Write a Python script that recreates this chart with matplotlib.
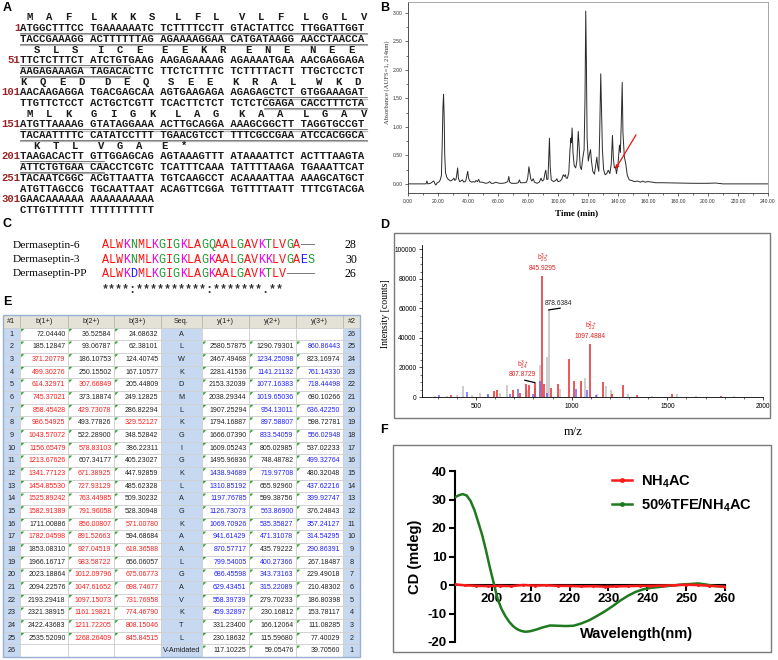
import matplotlib
matplotlib.use('Agg')
import matplotlib.pyplot as plt
from matplotlib.patches import Rectangle, Polygon
from matplotlib.ticker import MultipleLocator, FormatStrFormatter
from matplotlib.lines import Line2D

plt.rcParams['font.family'] = ['Liberation Sans', 'DejaVu Sans']
plt.rcParams['mathtext.fontset'] = 'custom'
plt.rcParams['mathtext.rm'] = 'Liberation Sans'
plt.rcParams['mathtext.it'] = 'Liberation Sans:italic'
plt.rcParams['mathtext.bf'] = 'Liberation Sans:bold'
plt.rcParams['mathtext.default'] = 'regular'
plt.rcParams['axes.unicode_minus'] = False

# ======================= DATA =======================
# --- A: cDNA and translation ---
dna_starts = [1, 51, 101, 151, 201, 251, 301]
dna_top = [
    "ATGGCTTTCC TGAAAAAATC TCTTTTCCTT GTACTATTCC TTGGATTGGT",
    "TTCTCTTTCT ATCTGTGAAG AAGAGAAAAG AGAAAATGAA AACGAGGAGA",
    "AACAAGAGGA TGACGAGCAA AGTGAAGAGA AGAGAGCTCT GTGGAAAGAT",
    "ATGTTAAAAG GTATAGGAAA ACTTGCAGGA AAAGCGGCTT TAGGTGCCGT",
    "TAAGACACTT GTTGGAGCAG AGTAAAGTTT ATAAAATTCT ACTTTAAGTA",
    "TACAATCGGC ACGTTAATTA TGTCAAGCCT ACAAAATTAA AAAGCATGCT",
    "GAACAAAAAA AAAAAAAAAA",
]
dna_bottom = [
    "TACCGAAAGG ACTTTTTTAG AGAAAAGGAA CATGATAAGG AACCTAACCA",
    "AAGAGAAAGA TAGACACTTC TTCTCTTTTC TCTTTTACTT TTGCTCCTCT",
    "TTGTTCTCCT ACTGCTCGTT TCACTTCTCT TCTCTCGAGA CACCTTTCTA",
    "TACAATTTTC CATATCCTTT TGAACGTCCT TTTCGCCGAA ATCCACGGCA",
    "ATTCTGTGAA CAACCTCGTC TCATTTCAAA TATTTTAAGA TGAAATTCAT",
    "ATGTTAGCCG TGCAATTAAT ACAGTTCGGA TGTTTTAATT TTTCGTACGA",
    "CTTGTTTTTT TTTTTTTTTT",
]
aa_lines = ["MAFLKKSLFLVLFLGLV", "SLSICEEEKRENENEE", "KQEDDEQSEEKRALWKD",
            "MLKGIGKLAGKAALGAV", "KTLVGAE*"]
underline_ranges = [(1, 66), (136, 212)]

# --- B: HPLC chromatogram (time min, absorbance) ---
hplc_time = [0, 12.0, 12.6, 13.2, 15.0, 16.5, 17.2, 18.0, 18.6, 19.5, 20.5, 21.5, 22.3, 22.8, 23.3, 23.7,
             24.1, 24.5, 25.0, 25.8, 26.8, 28.5, 30.0, 30.6, 31.2, 32.0, 32.6, 33.1, 33.6, 34.4, 35.3,
             36.2, 37.2, 38.5, 39.3, 39.8, 40.4, 41.2, 42.5, 43.5, 44.5, 45.3, 46.3, 47.1, 47.8, 49.5,
             50.5, 52.0, 53.5, 54.5, 55.5, 57.0, 58.5, 59.5, 61.0, 63.0, 65.0, 66.5, 67.2, 67.8, 69.0,
             72.0, 73.5, 74.3, 75.0, 77.5, 79.0, 79.8, 80.6, 81.2, 81.9, 82.6, 83.5, 84.3, 86.0, 87.5,
             88.7, 89.5, 90.5, 91.4, 91.9, 92.5, 93.3, 93.9, 94.3, 94.8, 95.5, 97.0, 98.5, 99.2, 100.0,
             101.5, 102.5, 103.5, 104.3, 104.9, 105.5, 106.3, 107.2, 108.0, 108.6, 108.9, 109.4, 110.0,
             110.8, 111.8, 112.6, 113.5, 114.1, 114.8, 115.6, 116.5, 117.4, 118.0, 118.5, 118.9, 119.4,
             120.2, 121.2, 121.7, 122.3, 123.2, 124.3, 125.3, 125.9, 126.5, 127.2, 127.8, 128.5, 129.0,
             129.6, 130.4, 131.4, 132.5, 133.5, 134.6, 135.5, 136.3, 136.9, 137.6, 138.3, 139.0, 140.0,
             141.0, 141.6, 142.3, 142.8, 143.3, 144.2, 145.2, 146.2, 147.5, 149.0, 151.0, 153.0, 155.0,
             156.5, 158.0, 160.0, 163.0, 165.0, 170.0, 180.0, 190.0, 200.0, 205.0, 210.0, 240.0]
hplc_abs = [0.0, 0.0, 0.05, 0.0, 0.01, 0.04, 0.05, 0.0, -0.02, 0.02, 0.03, 0.07, 0.15, 0.7, 1.35, 1.57,
            1.2, 0.5, 0.2, 0.12, 0.08, 0.05, 0.08, 0.10, 0.06, 0.08, 0.18, 0.28, 0.10, 0.04, 0.05,
            0.07, 0.03, 0.05, 0.15, 0.22, 0.10, 0.05, 0.03, 0.04, 0.03, 0.06, 0.04, 0.08, 0.03, 0.03,
            0.02, 0.01, 0.02, 0.04, 0.01, 0.01, 0.03, 0.02, 0.01, 0.01, 0.02, 0.04, 0.13, 0.03, 0.01,
            0.01, 0.02, 0.07, 0.02, 0.02, 0.03, 0.10, 0.30, 0.20, 0.08, 0.05, 0.09, 0.03, 0.01, 0.03,
            0.10, 0.05, 0.07, 0.20, 0.24, 0.08, 0.08, 0.50, 0.80, 0.30, 0.07, 0.04, 0.06, 0.09, 0.04,
            0.05, 0.08, 0.16, 0.13, 0.16, 0.10, 0.10, 0.20, 0.60, 0.80, 0.72, 0.98, 0.55,
            0.32, 0.28, 0.40, 0.92, 0.65, 0.30, 0.25, 0.45, 0.60, 1.5, 3.03, 2.2, 0.8,
            0.40, 0.55, 0.60, 0.40, 0.22, 0.17, 0.35, 0.47, 0.30, 0.22, 0.9, 1.93, 1.3,
            0.6, 0.25, 0.16, 0.18, 0.24, 0.18, 0.35, 0.85, 0.45, 0.28, 0.30, 0.18, 0.35,
            0.68, 0.55, 1.2, 1.78, 0.9, 0.48, 0.35, 0.15, 0.07, 0.06, 0.04, 0.05, 0.03,
            0.05, 0.03, 0.04, 0.03, 0.02, 0.02, 0.015, 0.01, 0.01, 0.015, 0.0, 0.0]
arrow_tail = (152.0, 0.86)
arrow_head = (138.3, 0.26)

# --- C: alignment ---
align_names = ["Dermaseptin-6", "Dermaseptin-3", "Dermaseptin-PP"]
align_seqs = ["ALWKNMLKGIGKLAGQAALGAVKTLVGA--",
              "ALWKNMLKGIGKLAGKAALGAVKKLVGAES",
              "ALWKDMLKGIGKLAGKAALGAVKTLV----"]
align_lengths = [28, 30, 26]
align_consensus = "****:**********:*******.**"

# --- D: MS/MS spectrum ---
ms_red_mz = [367, 593, 610, 695, 727, 762, 774, 807.87, 845.93, 856.0, 891.5, 927.0, 983.6,
             1012.1, 1047.6, 1097.49, 1161.2, 1211.7, 1268.3, 1341.8, 1525.9, 1782.0]
ms_red_int = [1500, 4000, 4500, 5000, 2800, 9000, 8000, 9700, 82000, 8500, 6000, 8500, 26000,
              10800, 10700, 36200, 10200, 2200, 7800, 1500, 2300, 900]
ms_blue_mz = [308, 451, 561, 678, 720, 799.5, 833.5, 870.6, 1019.7, 1077.2, 1126.7]
ms_blue_int = [1500, 3500, 2300, 1800, 5500, 2000, 10800, 3000, 5500, 5000, 1500]
ms_gray_mz = [285, 350, 400, 433, 480, 521, 560, 625, 664, 765, 809, 835, 871, 878.64, 940,
              1069, 1132, 1179, 1205, 1296, 1420, 1551, 1650, 1850]
ms_gray_int = [600, 800, 1500, 7500, 1200, 2500, 1500, 3000, 7800, 5000, 6000, 22000, 27000,
               59000, 5500, 13000, 2000, 7500, 4500, 2000, 800, 2000, 1000, 500]
ms_ion_labels = [  # (m/z, intensity, ion, charge, index, text)
    (845.93, 82000, "b", "3+", "25", "845.9295"),
    (1097.49, 36200, "b", "2+", "22", "1097.4884"),
    (807.87, 9700, "b", "3+", "24", "807.8729"),
]
ms_plain_label = (878.64, 59000, "878.6384")

# --- E: fragment ion table ---
tbl_headers = ["#1", "b(1+)", "b(2+)", "b(3+)", "Seq.", "y(1+)", "y(2+)", "y(3+)", "#2"]
tbl_b1 = [72.04440, 185.12847, 371.20779, 499.30276, 614.32971, 745.37021, 858.45428, 986.54925,
          1043.57072, 1156.65479, 1213.67626, 1341.77123, 1454.85530, 1525.89242, 1582.91389,
          1711.00886, 1782.04598, 1853.08310, 1966.16717, 2023.18864, 2094.22576, 2193.29418,
          2321.38915, 2422.43683, 2535.52090, None]
tbl_b2 = [36.52584, 93.06787, 186.10753, 250.15502, 307.66849, 373.18874, 429.73078, 493.77826,
          522.28900, 578.83103, 607.34177, 671.38925, 727.93129, 763.44985, 791.96058, 856.00807,
          891.52663, 927.04519, 983.58722, 1012.09796, 1047.61652, 1097.15073, 1161.19821,
          1211.72205, 1268.26409, None]
tbl_b3 = [24.68632, 62.38101, 124.40745, 167.10577, 205.44809, 249.12825, 286.82294, 329.52127,
          348.52842, 386.22311, 405.23027, 447.92859, 485.62328, 509.30232, 528.30948, 571.00780,
          594.68684, 618.36588, 656.06057, 675.06773, 698.74677, 731.76958, 774.46790, 808.15046,
          845.84515, None]
tbl_seq = ["A", "L", "W", "K", "D", "M", "L", "K", "G", "I", "G", "K", "L", "A", "G", "K", "A",
           "A", "L", "G", "A", "V", "K", "T", "L", "V-Amidated"]
tbl_y1 = [None, 2580.57875, 2467.49468, 2281.41536, 2153.32039, 2038.29344, 1907.25294, 1794.16887,
          1666.07390, 1609.05243, 1495.96836, 1438.94689, 1310.85192, 1197.76785, 1126.73073,
          1069.70926, 941.61429, 870.57717, 799.54005, 686.45598, 629.43451, 558.39739, 459.32897,
          331.23400, 230.18632, 117.10225]
tbl_y2 = [None, 1290.79301, 1234.25098, 1141.21132, 1077.16383, 1019.65036, 954.13011, 897.58807,
          833.54059, 805.02985, 748.48782, 719.97708, 655.92960, 599.38756, 563.86900, 535.35827,
          471.31078, 435.79222, 400.27366, 343.73163, 315.22089, 279.70233, 230.16812, 166.12064,
          115.59680, 59.05476]
tbl_y3 = [None, 860.86443, 823.16974, 761.14330, 718.44498, 680.10266, 636.42250, 598.72781,
          556.02948, 537.02233, 499.32764, 480.32048, 437.62216, 399.92747, 376.24843, 357.24127,
          314.54295, 290.86391, 267.18487, 229.49018, 210.48302, 186.80398, 153.78117, 111.08285,
          77.40029, 39.70560]
# matched-ion colour codes per row (k=black, r=red, b=blue, -=empty)
tbl_b1_col = "kkrrrrrrrrrrrrrkrkkkkkkkk-"
tbl_b2_col = "kkkkrkrkkrkrrrrrrrrrrrrrr-"
tbl_b3_col = "kkkkkkkrkkkkkkkrkrkrrrrrr-"
tbl_y1_col = "-kkkkkkkkkkbbbbbbbbbbbbkkk"
tbl_y2_col = "-kbbbbbbbkkbkkbbbkbbbkkkkk"
tbl_y3_col = "-bkbbkbkbkbkbbkbbbkkkkkkkk"

# --- F: CD spectra ---
cd_wl_tfe = [190.5, 191.5, 192.5, 193.5, 194.5, 195.5, 196.5, 197.5, 198.5, 199.5, 200.5, 201.5,
             202.5, 203.5, 204.5, 205.5, 206.5, 207.5, 208.5, 209.5, 210.5, 211.5, 213, 215, 217,
             219, 221, 223, 225, 227, 229, 231, 233, 235, 237, 239, 241, 243, 245, 247, 249, 251,
             253, 255, 257, 260]
cd_tfe = [30.8, 31.5, 31.9, 31.4, 29.5, 26.3, 22.0, 17.5, 12.0, 6.0, 0.5, -5.0,
          -8.5, -11.0, -13.0, -14.5, -15.5, -16.1, -16.4, -16.3, -16.0, -15.6, -14.9, -14.2, -14.3,
          -14.4, -14.3, -13.5, -12.4, -10.9, -9.3, -7.5, -5.5, -3.8, -2.4, -1.5, -1.0, -0.7, -0.4,
          -0.1, 0.2, 0.35, 0.55, 0.2, -0.3, -0.6]
cd_wl_nh4 = [190.5, 193, 196, 199, 202, 205, 208, 211, 214, 217, 220, 223, 226, 229, 232, 235,
             238, 241, 244, 247, 250, 253, 256, 260]
cd_nh4 = [0.2, -0.1, -0.3, -0.4, -0.3, -0.4, 0.0, -0.2, -0.1, -0.3, -0.3, -0.5, -0.4, -0.6, -0.5,
          -0.4, -0.3, -0.3, -0.2, -0.1, 0.1, 0.0, -0.3, -0.6]
cd_labels = ["NH$_{\\mathbf{4}}$AC", "50%TFE/NH$_{\\mathbf{4}}$AC"]

# ======================= LAYOUT =======================
W, H = 778, 660
fig = plt.figure(figsize=(W / 100, H / 100), dpi=100)
ov = fig.add_axes([0, 0, 1, 1])
ov.set_xlim(0, W)
ov.set_ylim(H, 0)
ov.set_autoscale_on(False)
ov.axis('off')


def fax(l, t, r, b):
    return fig.add_axes([l / W, 1 - b / H, (r - l) / W, (b - t) / H])


def plabel(x, y, s):
    ov.text(x, y, s, fontsize=9, weight='bold', ha='left', va='center', color='black')


plabel(3, 8, 'A'); plabel(380, 8, 'B'); plabel(3, 224, 'C')
plabel(380, 225, 'D'); plabel(3, 302, 'E'); plabel(380, 430, 'F')

# ---------------- A ----------------
MONO = 'Liberation Mono'
FS_DNA = 7.7
CW = 0.6 * FS_DNA * 100 / 72
X0 = 20.5
Y0, DY = 17.5, 10.69


def disp(c):
    return c + c // 10


def top_row(L):
    return 3 * L + 1 if L <= 4 else 15 + 2 * (L - 5)


kstart = 1
for L, start in enumerate(dna_starts):
    yt = Y0 + DY * top_row(L)
    yb = yt + DY
    ov.text(X0, yt, str(start), ha='right', va='center', family=MONO, weight='bold',
            fontsize=FS_DNA, color='#9b2626')
    ov.text(X0, yt, dna_top[L], ha='left', va='center', family=MONO, weight='bold',
            fontsize=FS_DNA, color='#1a1a1a')
    ov.text(X0, yb, dna_bottom[L], ha='left', va='center', family=MONO, weight='bold',
            fontsize=FS_DNA, color='#1a1a1a')
    if L < len(aa_lines):
        ya = yt - DY
        for j, aa in enumerate(aa_lines[L]):
            k = kstart + j
            n = 3 * k - 1
            c = n - 1 - 50 * (L)
            ov.text(X0 + (disp(c) + 0.5) * CW, ya, aa, ha='center', va='center', family=MONO,
                    weight='bold', fontsize=FS_DNA, color='#1a1a1a')
        kstart += len(aa_lines[L])
    nlen = len(dna_top[L].replace(' ', ''))
    for (s, e) in underline_ranges:
        a = max(s, start)
        b = min(e, start + nlen - 1)
        if a <= b:
            xa = X0 + disp(a - start) * CW
            xb = X0 + (disp(b - start) + 1) * CW
            for yy in (yt, yb):
                ov.plot([xa, xb], [yy + 5.0, yy + 5.0], color='#444444', lw=0.5)
                ov.plot([xa, xb], [yy + 6.3, yy + 6.3], color='#b4b4b4', lw=0.9)

# ---------------- B ----------------
axb = fax(408, 2, 768, 193)
axb.plot(hplc_time, hplc_abs, color='#2a2a2a', lw=0.7)
axb.set_xlim(0, 240)
axb.set_ylim(-0.16, 3.19)
axb.xaxis.set_major_locator(MultipleLocator(20))
axb.xaxis.set_minor_locator(MultipleLocator(10))
axb.yaxis.set_major_locator(MultipleLocator(0.5))
axb.yaxis.set_minor_locator(MultipleLocator(0.25))
axb.xaxis.set_major_formatter(FormatStrFormatter('%.2f'))
axb.yaxis.set_major_formatter(FormatStrFormatter('%.2f'))
axb.tick_params(labelsize=3.6, length=2.5, width=0.5, pad=1.5, colors='#333333')
axb.tick_params(which='minor', length=1.5, width=0.4)
for sp in ('top', 'right'):
    axb.spines[sp].set_color('#9a9a9a')
    axb.spines[sp].set_linewidth(0.6)
for sp in ('left', 'bottom'):
    axb.spines[sp].set_color('#333333')
    axb.spines[sp].set_linewidth(0.6)
axb.annotate('', xy=arrow_head, xytext=arrow_tail,
             arrowprops=dict(arrowstyle='-|>', color='#ee1111', lw=0.9, mutation_scale=5,
                             shrinkA=0, shrinkB=0))
ov.text(577, 213, 'Time (min)', family='Liberation Serif', weight='bold', fontsize=6.5,
        ha='center', va='center')
ov.text(387, 82, 'Absorbance (AUFS=1, 214nm)', family='Liberation Serif', fontsize=4.8,
        rotation=90, ha='center', va='center', color='#333333')

# ---------------- C ----------------
FS_AL = 8.5
CWA = 0.6 * FS_AL * 100 / 72
XA = 102
rows_c = [245, 260, 274]


def clustal(ch):
    if ch in 'AVFPMILW':
        return '#ff1010'
    if ch in 'DE':
        return '#1a1aff'
    if ch in 'RK':
        return '#ee00ee'
    if ch in 'STYHCNGQ':
        return '#1a9a2a'
    return '#666666'


for name, sq, ln, y in zip(align_names, align_seqs, align_lengths, rows_c):
    ov.text(13, y, name, family='Liberation Serif', fontsize=8.2, ha='left', va='center')
    for j, ch in enumerate(sq):
        ov.text(XA + j * CWA, y, '\u2014' if ch == '-' else ch, family=MONO, fontsize=FS_AL,
                color=clustal(ch), ha='left', va='center')
    ov.text(345, y, str(ln), family='Liberation Serif', fontsize=8.5, ha='left', va='center')
ov.text(XA, 290, align_consensus, family=MONO, weight='bold', fontsize=FS_AL, color='#333333',
        ha='left', va='center')

# ---------------- D ----------------
ov.add_patch(Rectangle((394, 233), 376, 185, fill=False, edgecolor='#7a7a7a', lw=1.0))
axd = fax(422, 245, 763, 397)
axd.set_facecolor('none')
axd.vlines(ms_gray_mz, 0, ms_gray_int, color='#cdcdcd', lw=1.4)
axd.vlines(ms_blue_mz, 0, ms_blue_int, color='#4a4aff', lw=1.1, alpha=0.85)
axd.vlines(ms_red_mz, 0, ms_red_int, color='#e8282a', lw=1.1)
axd.set_xlim(217, 2000)
axd.set_ylim(0, 103000)
axd.set_xticks([500, 1000, 1500, 2000])
axd.xaxis.set_minor_locator(MultipleLocator(100))
axd.yaxis.set_major_locator(MultipleLocator(20000))
axd.yaxis.set_minor_locator(MultipleLocator(5000))
axd.tick_params(labelsize=4.8, length=2.5, width=0.5, pad=1.5)
axd.tick_params(which='minor', length=1.3, width=0.4)
for sp in ('top', 'right'):
    axd.spines[sp].set_visible(False)
for sp in ('left', 'bottom'):
    axd.spines[sp].set_linewidth(0.6)
# ion labels
lab_offsets = {845.93: (0, 5.3, 12.5), 1097.49: (-0.5, 4.8, 12.2), 807.87: (-9.0, 6.0, 12.8)}
for mz, it, ion, chg, idx, txt in ms_ion_labels:
    dx, dy1, dy2 = lab_offsets[mz]
    axd.annotate(txt, xy=(mz, it), xytext=(dx, dy1), textcoords='offset points', ha='center',
                 va='center', fontsize=4.8, color='#e02020')
    axd.annotate('$\\mathregular{%s}^{%s}_{%s}$' % (ion, chg, idx), xy=(mz, it),
                 xytext=(dx + 0.5, dy2), textcoords='offset points', ha='center', va='center',
                 fontsize=4.8, color='#e02020')
axd.annotate('', xy=(807.87, 9700), xytext=(-7.5, 1.8), textcoords='offset points',
             arrowprops=dict(arrowstyle='-', color='black', lw=0.9, shrinkA=0, shrinkB=0))
pmz, pit, ptxt = ms_plain_label
axd.annotate('', xy=(pmz, pit), xytext=(8.5, 1.3), textcoords='offset points',
             arrowprops=dict(arrowstyle='-', color='black', lw=0.9, shrinkA=0, shrinkB=0))
axd.annotate(ptxt, xy=(pmz, pit), xytext=(7.5, 4.7), textcoords='offset points', ha='center',
             va='center', fontsize=4.8, color='#222222')
ov.text(573, 432, 'm/z', family='Liberation Serif', fontsize=9, ha='center', va='center')
ov.text(386, 314, 'Intensity [counts]', family='Liberation Serif', fontsize=7, rotation=90,
        ha='center', va='center')

# ---------------- E ----------------
col_edges = [3, 20, 68, 114, 161, 202, 249, 296, 343, 360]
T_TOP = 315.0
ROW_H = 12.67
n_rows = len(tbl_seq)
HDR_BG = '#e4e1d6'
BLUE_BG = '#c6d9f0'
COLMAP = {'k': '#222222', 'r': '#ff1c1c', 'b': '#2020ff'}
# header
for ci, htxt in enumerate(tbl_headers):
    x1, x2 = col_edges[ci], col_edges[ci + 1]
    ov.add_patch(Rectangle((x1, T_TOP), x2 - x1, ROW_H, facecolor=HDR_BG, edgecolor='#bdbab0',
                           lw=0.6))
    ov.text((x1 + x2) / 2, T_TOP + ROW_H / 2, htxt, fontsize=5.2, ha='center', va='center',
            color='#222222')
num_cols = [(1, tbl_b1, tbl_b1_col), (2, tbl_b2, tbl_b2_col), (3, tbl_b3, tbl_b3_col),
            (5, tbl_y1, tbl_y1_col), (6, tbl_y2, tbl_y2_col), (7, tbl_y3, tbl_y3_col)]
for r in range(n_rows):
    yt = T_TOP + (r + 1) * ROW_H
    yc = yt + ROW_H / 2
    for ci in range(9):
        x1, x2 = col_edges[ci], col_edges[ci + 1]
        bg = BLUE_BG if ci in (0, 4, 8) else 'white'
        ov.add_patch(Rectangle((x1, yt), x2 - x1, ROW_H, facecolor=bg, edgecolor='#cfcfcf',
                               lw=0.6))
    ov.text((col_edges[0] + col_edges[1]) / 2, yc, str(r + 1), fontsize=5.2, ha='center',
            va='center', color='#222222')
    ov.text((col_edges[8] + col_edges[9]) / 2, yc, str(n_rows - r), fontsize=5.2, ha='center',
            va='center', color='#222222')
    ov.text((col_edges[4] + col_edges[5]) / 2, yc, tbl_seq[r], fontsize=5.2, ha='center',
            va='center', color='#222222')
    for ci, vals, cols in num_cols:
        v = vals[r]
        if v is None:
            continue
        x1, x2 = col_edges[ci], col_edges[ci + 1]
        ov.text(x2 - 2.5, yc, '%.5f' % v, fontsize=5.0, ha='right', va='center',
                color=COLMAP[cols[r]])
        ov.add_patch(Polygon([(x1 + 1.2, yt + 1.2), (x1 + 4.2, yt + 1.2), (x1 + 1.2, yt + 4.2)],
                             closed=True, facecolor='#1e9a1e', edgecolor='none'))
ov.add_patch(Rectangle((col_edges[0], T_TOP), col_edges[-1] - col_edges[0],
                       ROW_H * (n_rows + 1), fill=False, edgecolor='#98b0d4', lw=1.0))

# ---------------- F ----------------
ov.add_patch(Rectangle((393, 445), 378, 207, fill=False, edgecolor='#7a7a7a', lw=1.0))
axf = fax(455, 471, 725, 642)
axf.set_facecolor('none')
axf.plot(cd_wl_tfe, cd_tfe, color='#1f7a1f', lw=1.8, zorder=3, label=cd_labels[1])
axf.plot(cd_wl_nh4, cd_nh4, color='#ff1a1a', lw=1.8, marker='o', ms=1.2, zorder=4,
         label=cd_labels[0])
axf.set_xlim(190.5, 260)
axf.set_ylim(-20, 40)
axf.set_xticks([200, 210, 220, 230, 240, 250, 260])
axf.set_yticks([-20, -10, 0, 10, 20, 30, 40])
axf.spines['bottom'].set_position(('data', 0))
axf.spines['top'].set_visible(False)
axf.spines['right'].set_visible(False)
for sp in ('left', 'bottom'):
    axf.spines[sp].set_linewidth(1.5)
    axf.spines[sp].set_zorder(2.5)
axf.tick_params(labelsize=9.5, length=4, width=1.5, pad=2)
for lab in axf.get_xticklabels() + axf.get_yticklabels():
    lab.set_fontweight('bold')
h = [Line2D([], [], color='#ff1a1a', lw=1.8, marker='o', ms=2.5),
     Line2D([], [], color='#1f7a1f', lw=1.8, marker='o', ms=2.5)]
axf.legend(h, cd_labels, loc='upper left', bbox_to_anchor=(0.58, 0.985), frameon=False,
           prop={'weight': 'bold', 'size': 10.5}, handlelength=1.4, handletextpad=0.6,
           labelspacing=0.45, borderpad=0, borderaxespad=0)
ov.text(637, 634, 'Wavelength(nm)', weight='bold', fontsize=10.5, ha='center', va='center')
ov.text(415, 557, 'CD (mdeg)', weight='bold', fontsize=10.5, rotation=90, ha='center',
        va='center')

fig.savefig('out.png', dpi=100)
